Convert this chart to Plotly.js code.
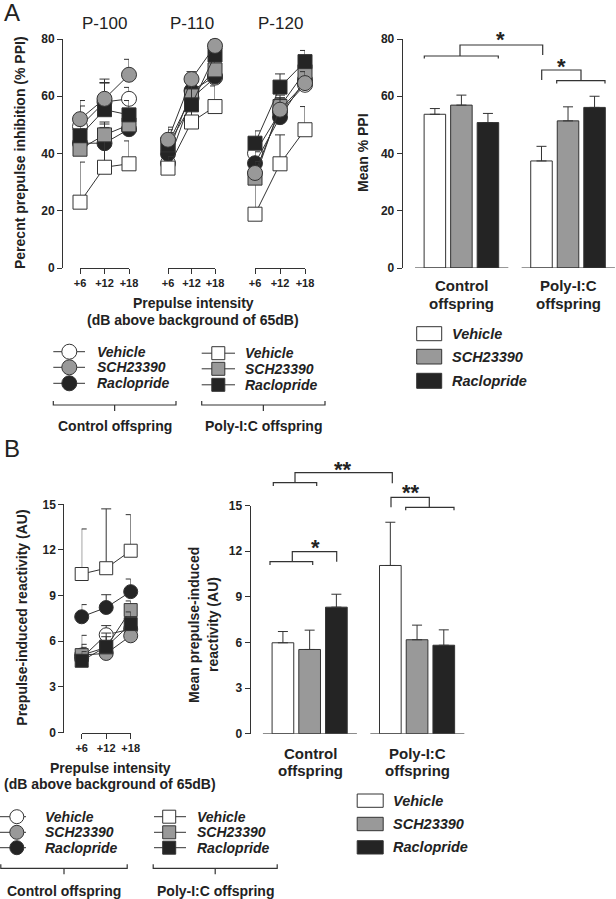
<!DOCTYPE html>
<html><head><meta charset="utf-8">
<script src="https://cdn.plot.ly/plotly-3.0.1.min.js"></script>
<style>body{margin:0;background:#fff}#chart{width:616px;height:899px}</style>
</head><body><div id="chart"></div>
<script>
// ---------------- data ----------------
const dbSteps = [6, 12, 18];
const dbTickText = ['+6', '+12', '+18'];
const pulseLevels = ['P-100', 'P-110', 'P-120'];
const groupNames = ['Control offspring', 'Poly-I:C offspring'];
const drugNames = ['Vehicle', 'SCH23390', 'Raclopride'];

// Panel A (left): % PPI, rows = P-100, P-110, P-120 ; columns = +6, +12, +18 dB
const ppiCtrlVehicle    = [[49.4, 58.0, 59.1], [36.6, 59.3, 66.5], [40.1, 54.5, 64.0]];
const ppiCtrlVehicleErr = [[7.2, 6.6, 4.0], [5.0, 5.0, 4.0], [5.0, 5.0, 5.0]];
const ppiCtrlSch        = [[52.0, 59.1, 67.5], [44.8, 66.0, 77.6], [33.2, 55.3, 64.6]];
const ppiCtrlSchErr     = [[6.5, 6.9, 5.4], [4.4, 2.6, 2.1], [4.0, 4.0, 4.0]];
const ppiCtrlRaclo      = [[43.6, 43.6, 48.5], [39.9, 61.9, 66.9], [36.6, 52.7, 65.7]];
const ppiCtrlRacloErr   = [[5.0, 5.5, 5.0], [5.0, 4.0, 4.0], [4.0, 4.0, 4.0]];
const ppiPolyVehicle    = [[23.0, 35.2, 36.4], [34.9, 51.0, 56.4], [18.8, 36.4, 48.3]];
const ppiPolyVehicleErr = [[14.0, 15.1, 8.0], [4.0, 4.0, 7.2], [11.4, 10.1, 8.1]];
const ppiPolySch        = [[41.5, 46.5, 50.0], [43.3, 60.1, 69.2], [31.4, 56.4, 68.6]];
const ppiPolySchErr     = [[4.5, 4.5, 4.0], [4.0, 4.0, 4.0], [4.0, 4.0, 4.0]];
const ppiPolyRaclo      = [[46.2, 55.3, 53.5], [43.0, 57.0, 74.4], [43.6, 63.2, 72.1]];
const ppiPolyRacloErr   = [[5.5, 9.5, 5.0], [5.3, 7.5, 4.0], [4.3, 4.6, 3.9]];

// Panel A (right): mean % PPI per group [Control, Poly-I:C]
const meanPpiVehicle    = [53.7, 37.4];
const meanPpiVehicleErr = [2.0, 5.1];
const meanPpiSch        = [56.9, 51.4];
const meanPpiSchErr     = [3.5, 4.9];
const meanPpiRaclo      = [50.8, 56.1];
const meanPpiRacloErr   = [3.2, 3.9];

// Panel B (left): prepulse-induced reactivity (AU) at +6, +12, +18 dB
const reactCtrlVehicle    = [4.9, 6.43, 6.8];
const reactCtrlVehicleErr = [0.9, 0.6, 0.6];
const reactCtrlSch        = [5.1, 5.2, 6.36];
const reactCtrlSchErr     = [0.5, 0.5, 0.6];
const reactCtrlRaclo      = [7.61, 8.22, 9.26];
const reactCtrlRacloErr   = [0.8, 0.84, 0.83];
const reactPolyVehicle    = [10.42, 10.8, 11.95];
const reactPolyVehicleErr = [2.96, 3.9, 2.37];
const reactPolySch        = [5.09, 5.6, 8.05];
const reactPolySchErr     = [1.3, 0.7, 0.6];
const reactPolyRaclo      = [4.72, 5.64, 7.13];
const reactPolyRacloErr   = [0.6, 0.9, 0.8];

// Panel B (right): mean reactivity per group [Control, Poly-I:C]
const meanReactVehicle    = [5.98, 11.06];
const meanReactVehicleErr = [0.74, 2.84];
const meanReactSch        = [5.54, 6.18];
const meanReactSchErr     = [1.27, 0.96];
const meanReactRaclo      = [8.32, 5.82];
const meanReactRacloErr   = [0.85, 1.01];

// ---------------- styling ----------------
const W = 616, H = 899;
const px = x => x / W;
const py = y => 1 - y / H;
const INK = '#333333';
const FILL = {white: '#ffffff', gray: '#999999', black: '#242424'};
const FONT = 'Arial, "Liberation Sans", Helvetica, sans-serif';
const zeros = n => new Array(n).fill(0);

function lineTrace(vals, errs, xa, ya, symbol, fill, size) {
  return {
    type: 'scatter', mode: 'lines+markers', x: dbSteps, y: vals,
    xaxis: xa, yaxis: ya, cliponaxis: false, hoverinfo: 'skip', showlegend: false,
    line: {color: INK, width: 1},
    marker: {symbol: symbol, size: size, color: fill, line: {color: INK, width: 1}},
    error_y: {type: 'data', array: errs, arrayminus: zeros(errs.length), symmetric: false,
              color: INK, thickness: 1, width: 5}
  };
}
function barTrace(vals, errs, xa, ya, fill, name) {
  return {
    type: 'bar', name: name, x: groupNames, y: vals, xaxis: xa, yaxis: ya,
    hoverinfo: 'skip', showlegend: false,
    marker: {color: fill, line: {color: INK, width: 1}},
    error_y: {type: 'data', array: errs, arrayminus: zeros(errs.length), symmetric: false,
              color: INK, thickness: 1, width: 5}
  };
}

const lineSeriesA = [
  [ppiCtrlVehicle, ppiCtrlVehicleErr, 'circle', FILL.white],
  [ppiCtrlRaclo, ppiCtrlRacloErr, 'circle', FILL.black],
  [ppiPolyVehicle, ppiPolyVehicleErr, 'square', FILL.white],
  [ppiPolySch, ppiPolySchErr, 'square', FILL.gray],
  [ppiPolyRaclo, ppiPolyRacloErr, 'square', FILL.black],
  [ppiCtrlSch, ppiCtrlSchErr, 'circle', FILL.gray]
];
const lineSeriesB = [
  [reactCtrlVehicle, reactCtrlVehicleErr, 'circle', FILL.white],
  [reactCtrlSch, reactCtrlSchErr, 'circle', FILL.gray],
  [reactPolyVehicle, reactPolyVehicleErr, 'square', FILL.white],
  [reactPolySch, reactPolySchErr, 'square', FILL.gray],
  [reactPolyRaclo, reactPolyRacloErr, 'square', FILL.black],
  [reactCtrlRaclo, reactCtrlRacloErr, 'circle', FILL.black]
];

const traces = [];
const aXaxes = ['x', 'x2', 'x3'];
for (let p = 0; p < 3; p++) {
  lineSeriesA.forEach(s => {
    traces.push(lineTrace(s[0][p], s[1][p], aXaxes[p], 'y', s[2], s[3], s[2] === 'circle' ? 15 : 14));
  });
}
traces.push(barTrace(meanPpiVehicle, meanPpiVehicleErr, 'x4', 'y2', FILL.white, drugNames[0]));
traces.push(barTrace(meanPpiSch, meanPpiSchErr, 'x4', 'y2', FILL.gray, drugNames[1]));
traces.push(barTrace(meanPpiRaclo, meanPpiRacloErr, 'x4', 'y2', FILL.black, drugNames[2]));
lineSeriesB.forEach(s => {
  traces.push(lineTrace(s[0], s[1], 'x5', 'y3', s[2], s[3], s[2] === 'circle' ? 14 : 13));
});
traces.push(barTrace(meanReactVehicle, meanReactVehicleErr, 'x6', 'y4', FILL.white, drugNames[0]));
traces.push(barTrace(meanReactSch, meanReactSchErr, 'x6', 'y4', FILL.gray, drugNames[1]));
traces.push(barTrace(meanReactRaclo, meanReactRacloErr, 'x6', 'y4', FILL.black, drugNames[2]));

// ---------------- axes ----------------
const tickFontY = {family: FONT, size: 12, color: '#222', weight: 'bold'};
const tickFontX = {family: FONT, size: 11, color: '#222', weight: 'bold'};
function dbAxis(x0, x1, anchor) {
  return {domain: [px(x0), px(x1)], range: [6, 18], anchor: anchor,
    tickmode: 'array', tickvals: dbSteps, ticktext: dbTickText,
    showline: true, linecolor: INK, linewidth: 1, ticks: 'outside', ticklen: 5,
    tickcolor: INK, showgrid: false, zeroline: false, tickfont: tickFontX, fixedrange: true};
}
function valAxis(top, bottom, xpos, max, dtick) {
  return {domain: [py(bottom), py(top)], range: [0, max], anchor: 'free', position: px(xpos),
    dtick: dtick, tick0: 0, showline: true, linecolor: INK, linewidth: 1, ticks: 'outside',
    ticklen: 5, tickcolor: INK, showgrid: false, zeroline: false, tickfont: tickFontY, fixedrange: true};
}
function catAxis(x0, x1, anchor) {
  return {domain: [px(x0), px(x1)], type: 'category', range: [-0.56, 1.45], anchor: anchor,
    showline: false, showticklabels: false, ticks: '', showgrid: false, zeroline: false, fixedrange: true};
}

// ---------------- shapes ----------------
const shapes = [];
function pathPx(pts) {
  // pts: array of polylines [[x,y],...] in pixel coordinates
  return pts.map(line => line.map((p, i) => (i ? 'L' : 'M') + px(p[0]).toFixed(5) + ',' + py(p[1]).toFixed(5)).join(' ')).join(' ');
}
function bracket(pts) {
  shapes.push({type: 'path', xref: 'paper', yref: 'paper', path: pathPx(pts), line: {color: INK, width: 1.2}});
}
// baselines of bar charts (broken per group)
[['x4', 'y2'], ['x6', 'y4']].forEach(a => {
  [[-0.435, 0.44], [0.565, 1.44]].forEach(r => {
    shapes.push({type: 'line', xref: a[0], yref: a[1], x0: r[0], x1: r[1], y0: 0, y1: 0,
      line: {color: INK, width: 1.2}});
  });
});
// significance brackets, panel A
bracket([[[424.3, 58.5], [424.3, 56], [498.3, 56], [498.3, 58.5]], [[460, 56], [460, 45], [542.7, 45], [542.7, 55]]]);
bracket([[[541.7, 80], [541.7, 70], [581, 70], [581, 80.7]], [[556.7, 83.5], [556.7, 80.7], [605, 80.7], [605, 83.5]]]);
// significance brackets, panel B
bracket([[[273.3, 486], [273.3, 482.7], [316.7, 482.7], [316.7, 486]], [[295, 482.7], [295, 472.7], [392.3, 472.7], [392.3, 483.3]]]);
bracket([[[391, 507.3], [391, 497.3], [429.3, 497.3], [429.3, 507.3]], [[405.7, 510.3], [405.7, 507.3], [454, 507.3], [454, 510.3]]]);
bracket([[[270, 565], [270, 561.7], [312.7, 561.7], [312.7, 565]], [[292.3, 561.7], [292.3, 551.7], [336.7, 551.7], [336.7, 561.7]]]);
// legend group brackets
function groupBracket(x0, x1, y) {
  const m = (x0 + x1) / 2;
  bracket([[[x0, y - 4], [x0, y], [x1, y], [x1, y - 4]], [[m, y], [m, y + 6]]]);
}
groupBracket(53.3, 176, 405);
groupBracket(201.7, 325, 405);
groupBracket(0.8, 127.2, 868.3);
groupBracket(153.2, 277.2, 868.3);

// legend glyphs
const fills3 = [FILL.white, FILL.gray, FILL.black];
function legendMarker(kind, cx, cy, r, lx0, lx1, fill) {
  shapes.push({type: 'line', xref: 'paper', yref: 'paper', x0: px(lx0), x1: px(lx1), y0: py(cy), y1: py(cy), line: {color: INK, width: 1}});
  shapes.push({type: kind, xref: 'paper', yref: 'paper', x0: px(cx - r), x1: px(cx + r), y0: py(cy + r), y1: py(cy - r),
    fillcolor: fill, line: {color: INK, width: 1}});
}
const rowsA = [351.7, 367.3, 383.3];
const rowsBl = [816.7, 832.3, 847.7];
rowsA.forEach((y, i) => { legendMarker('circle', 69.3, y, 7.5, 53.3, 85, fills3[i]); legendMarker('rect', 218.3, y + 1.5, 6.5, 201.7, 235, fills3[i]); });
rowsBl.forEach((y, i) => { legendMarker('circle', 16.8, y, 7, 0, 26, fills3[i]); legendMarker('rect', 169.2, y, 6.5, 154, 186, fills3[i]); });
const rowsAr = [[326.7, 340.7], [349.3, 364], [373.3, 388.3]];
const rowsBr = [[794, 807.3], [817.3, 830.7], [840.7, 854]];
rowsAr.forEach((r, i) => shapes.push({type: 'rect', xref: 'paper', yref: 'paper', x0: px(416.7), x1: px(441.7), y0: py(r[1]), y1: py(r[0]), fillcolor: fills3[i], line: {color: INK, width: 1}}));
rowsBr.forEach((r, i) => shapes.push({type: 'rect', xref: 'paper', yref: 'paper', x0: px(357.2), x1: px(383.2), y0: py(r[1]), y1: py(r[0]), fillcolor: fills3[i], line: {color: INK, width: 1}}));

// ---------------- annotations ----------------
const annotations = [];
function ann(text, x, y, o) {
  o = o || {};
  annotations.push({text: text, x: px(x), y: py(y), xref: 'paper', yref: 'paper', showarrow: false,
    xanchor: o.xanchor || 'center', yanchor: 'middle', textangle: o.angle || 0,
    font: {family: FONT, size: o.size || 14, color: '#222', weight: o.weight || 'bold', style: o.style || 'normal'}});
}
ann('A', 12, 13, {size: 24, weight: 'normal'});
ann('B', 12, 448, {size: 24, weight: 'normal'});
[105, 192, 280].forEach((x, i) => ann(pulseLevels[i], x, 23, {size: 17, weight: 'normal'}));
ann('Perecnt prepulse inhibition (% PPI)', 20, 153, {angle: -90});
ann('Prepulse intensity', 193, 303);
ann('(dB above background of 65dB)', 193, 320);
rowsA.forEach((y, i) => { ann(drugNames[i], 95, y, {xanchor: 'left', style: 'italic'}); ann(drugNames[i], 243.3, y + 1.5, {xanchor: 'left', style: 'italic'}); });
ann(groupNames[0], 115, 426);
ann(groupNames[1], 263.3, 426);
ann('Mean % PPI', 363, 153, {angle: -90});
ann('Control', 461.5, 286, {size: 15});
ann('offspring', 461.5, 303, {size: 15});
ann('Poly-I:C', 568, 286, {size: 15});
ann('offspring', 568, 303, {size: 15});
rowsAr.forEach((r, i) => ann(drugNames[i], 450, (r[0] + r[1]) / 2, {xanchor: 'left', style: 'italic', size: 14.5}));
ann('*', 500, 40, {size: 22});
ann('*', 561.7, 66, {size: 22});
ann('Prepulse-induced reactivity (AU)', 21.7, 618, {angle: -90});
ann('Prepulse intensity', 110, 768);
ann('(dB above background of 65dB)', 110, 784);
rowsBl.forEach((y, i) => { ann(drugNames[i], 43.2, y, {xanchor: 'left', style: 'italic'}); ann(drugNames[i], 195.2, y, {xanchor: 'left', style: 'italic'}); });
ann(groupNames[0], 64, 890.7);
ann(groupNames[1], 215.2, 890.7);
ann('Mean prepulse-induced', 194, 625, {angle: -90});
ann('reactivity (AU)', 213, 625, {angle: -90});
ann('Control', 310, 753, {size: 15});
ann('offspring', 310, 770, {size: 15});
ann('Poly-I:C', 417, 753, {size: 15});
ann('offspring', 417, 770, {size: 15});
rowsBr.forEach((r, i) => ann(drugNames[i], 391.2, (r[0] + r[1]) / 2, {xanchor: 'left', style: 'italic', size: 14.5}));
ann('**', 342.7, 470, {size: 22});
ann('**', 411, 493, {size: 22});
ann('*', 315, 547, {size: 22});

const layout = {
  width: W, height: H, margin: {l: 0, r: 0, t: 0, b: 0, pad: 0},
  paper_bgcolor: '#ffffff', plot_bgcolor: 'rgba(0,0,0,0)', showlegend: false,
  font: {family: FONT, color: '#222'},
  barmode: 'group', bargap: 0.2535, bargroupgap: 0.189,
  xaxis: dbAxis(80, 129, 'y'),
  xaxis2: dbAxis(168, 215, 'y'),
  xaxis3: dbAxis(255, 305, 'y'),
  yaxis: valAxis(39, 268, 62, 80, 20),
  xaxis4: catAxis(401.7, 616, 'y2'),
  yaxis2: valAxis(39, 268, 401.7, 80, 20),
  xaxis5: dbAxis(81.7, 130.7, 'y3'),
  yaxis3: valAxis(504.3, 732.6, 63.3, 15, 3),
  xaxis6: catAxis(249.5, 465.4, 'y4'),
  yaxis4: valAxis(505.5, 733.8, 249.5, 15, 3),
  shapes: shapes, annotations: annotations
};
Plotly.newPlot('chart', traces, layout, {staticPlot: true, displayModeBar: false});
</script></body></html>
